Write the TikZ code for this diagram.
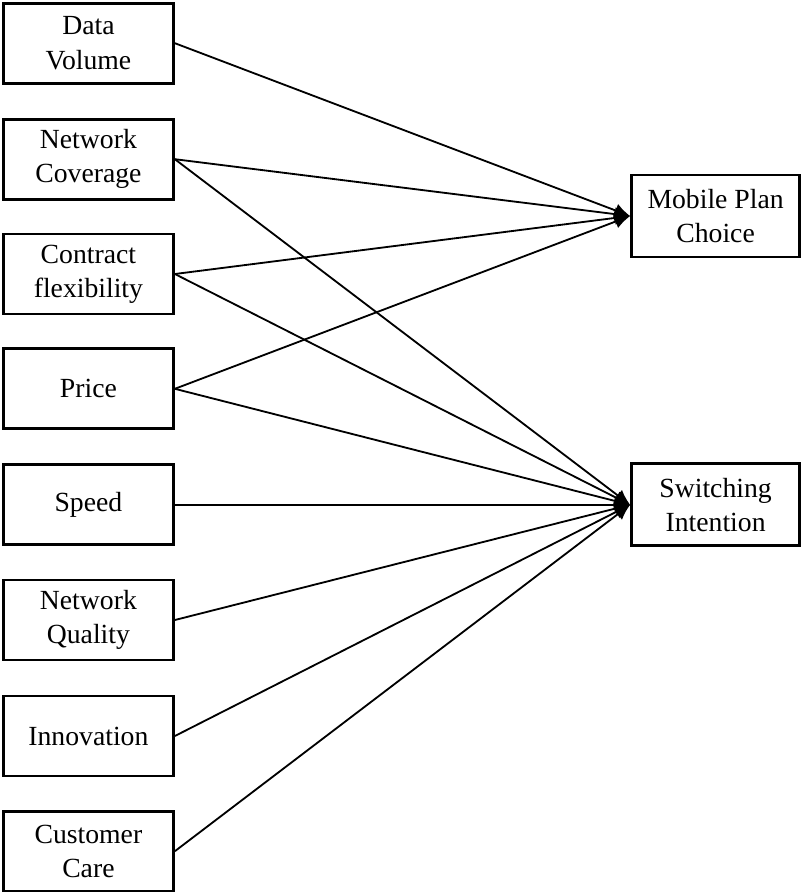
\documentclass[tikz,border=0pt]{standalone}
\usepackage{fontspec}
\setmainfont{Liberation Serif}
\usetikzlibrary{arrows.meta}

\tikzset{
    factor/.style={draw, line width=2.1pt, minimum width=4.25cm, minimum height=2cm,
        align=center, font=\fontsize{19.7}{24.3}\selectfont},
    outcome/.style={factor, minimum width=4.2cm, minimum height=2.05cm},
    link/.style={line width=1.3pt, -{Latex[length=11pt, width=10pt]}}
}

\begin{document}
\begin{tikzpicture}

    \useasboundingbox (0,0) rectangle (20.075,-22.3);

    % Factors on the left
    \node[factor] (volume) at (2.21, -1.08) {Data\\Volume};
    \node[factor] (coverage) at (2.21, -3.98) {Network\\Coverage};
    \node[factor] (contract) at (2.21, -6.85) {Contract\\flexibility};
    \node[factor] (price) at (2.21, -9.72) {Price};
    \node[factor] (speed) at (2.21, -12.62) {Speed};
    \node[factor] (quality) at (2.21, -15.5) {Network\\Quality};
    \node[factor] (innovation) at (2.21, -18.4) {Innovation};
    \node[factor] (care) at (2.21, -21.28) {Customer\\Care};

    % Outcomes on the right
    \node[outcome] (plan) at (17.89, -5.4) {Mobile Plan\\Choice};
    \node[outcome] (switch) at (17.89, -12.62) {Switching\\Intention};

    % Paths to mobile plan choice
    \draw[link] (volume.east) -- (plan.west);
    \draw[link] (coverage.east) -- (plan.west);
    \draw[link] (contract.east) -- (plan.west);
    \draw[link] (price.east) -- (plan.west);

    % Paths to switching intention
    \draw[link] (coverage.east) -- (switch.west);
    \draw[link] (contract.east) -- (switch.west);
    \draw[link] (price.east) -- (switch.west);
    \draw[link] (speed.east) -- (switch.west);
    \draw[link] (quality.east) -- (switch.west);
    \draw[link] (innovation.east) -- (switch.west);
    \draw[link] (care.east) -- (switch.west);

\end{tikzpicture}
\end{document}
